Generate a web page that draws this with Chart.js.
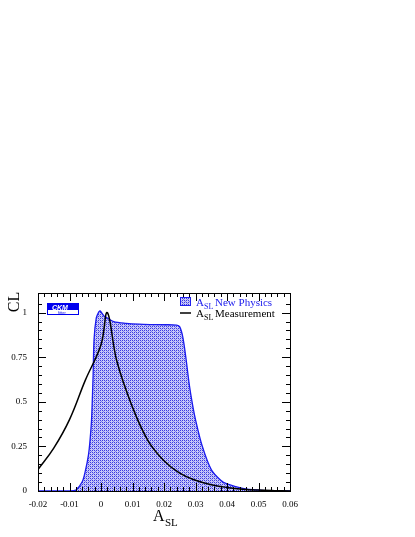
<!DOCTYPE html><html><head><script src="https://cdn.jsdelivr.net/npm/chart.js"></script>
<style>html,body{margin:0;background:#fff}#c{display:block}</style></head><body>
<canvas id="c" width="415" height="537"></canvas>
<script>
const npX=[-0.02,-0.01,-0.008,-0.006,-0.005,-0.004,-0.0035,-0.003,-0.0025,-0.0022,-0.0015,-0.0008,-0.0003,0.001,0.002,0.004,0.008,0.012,0.016,0.02,0.024,0.025,0.026,0.027,0.028,0.029,0.03,0.032,0.035,0.038,0.04,0.045,0.05,0.055,0.06];
const npY=[0,0,0.005,0.05,0.11,0.2,0.28,0.4,0.65,0.85,0.97,1.0,1.01,0.98,0.97,0.95,0.94,0.935,0.933,0.932,0.93,0.92,0.86,0.74,0.6,0.49,0.4,0.26,0.12,0.06,0.04,0.015,0.005,0.001,0];
const mX=[-0.02,-0.015,-0.01,-0.005,0,0.002,0.005,0.01,0.015,0.02,0.025,0.03,0.035,0.04,0.045,0.05,0.055,0.06];
const mY=[0.12,0.24,0.40,0.62,0.82,1.0,0.73,0.47,0.28,0.17,0.10,0.06,0.035,0.02,0.01,0.005,0.002,0];
const xTicks=[-0.02,-0.01,0,0.01,0.02,0.03,0.04,0.05,0.06];
const yTicks=[0,0.25,0.5,0.75,1];
const pc=document.createElement('canvas');pc.width=4;pc.height=4;
const g=pc.getContext('2d');g.fillStyle='#c8c8f8';g.fillRect(0,0,4,4);g.fillStyle='#3a3ae0';
g.fillRect(0,0,1,1);g.fillRect(2,2,1,1);g.fillRect(2,0,1,1);g.fillRect(0,2,1,1);g.fillStyle='#8080f0';g.fillRect(1,1,1,1);g.fillRect(3,3,1,1);
const pat=g.createPattern(pc,'repeat');
const F='"Liberation Serif", "Times New Roman", serif';
const deco={id:'deco',afterDraw(ch){const c=ch.ctx,a=ch.chartArea,xs=ch.scales.x,ys=ch.scales.y;c.save();
c.strokeStyle='#000';c.lineWidth=1;c.strokeRect(a.left+.5,a.top+.5,a.right-a.left,a.bottom-a.top);
c.beginPath();for(let v=-0.02;v<=0.0601;v+=0.002){const p=Math.round(xs.getPixelForValue(v))+.5;const L=(Math.round(v*1000)%10===0)?8:4;c.moveTo(p,a.bottom);c.lineTo(p,a.bottom-L);c.moveTo(p,a.top);c.lineTo(p,a.top+L);}
for(let v=0;v<=1.1;v+=0.05){const p=Math.round(ys.getPixelForValue(v))+.5;const L=(Math.round(v*100)%25===0)?8:4;c.moveTo(a.left,p);c.lineTo(a.left+L,p);c.moveTo(a.right,p);c.lineTo(a.right-L,p);}c.stroke();
// logo
c.fillStyle='#0000ee';c.fillRect(47,303,32,7);c.strokeStyle='#0000ee';c.strokeRect(47.5,303.5,31,11);
c.fillStyle='#fff';c.font='italic bold 7px Arial';c.fillText('CKM',52,309.5);c.fillStyle='#0000ee';c.font='4px Arial';c.fillText('fitter',58,314);
// legend
c.fillStyle=pat;c.fillRect(180,297,11,9);c.strokeStyle='#2020ee';c.strokeRect(180.5,297.5,10,8);
c.font='11px '+F;c.fillStyle='#2020ee';c.fillText('A',196,306);c.font='8px '+F;c.fillText('SL',204,309);c.font='11px '+F;c.fillText('New Physics',215,306);
c.strokeStyle='#000';c.lineWidth=1.5;c.beginPath();c.moveTo(180,313);c.lineTo(191,313);c.stroke();
c.fillStyle='#000';c.font='11px '+F;c.fillText('A',196,317);c.font='8px '+F;c.fillText('SL',204,320);c.font='11px '+F;c.fillText('Measurement',215,317);
// axis titles
c.font='16px '+F;c.fillText('A',153,521);c.font='11px '+F;c.fillText('SL',165,526);
c.save();c.translate(19,302);c.rotate(-Math.PI/2);c.font='16px '+F;c.textAlign='center';c.fillText('CL',0,0);c.restore();
c.restore();}};
new Chart(document.getElementById('c'),{type:'scatter',data:{datasets:[
{data:mX.map((x,i)=>({x,y:mY[i]})),showLine:true,borderColor:'#000',borderWidth:1.5,pointRadius:0,tension:0.4,fill:false,order:0},
{data:npX.map((x,i)=>({x,y:npY[i]})),showLine:true,borderColor:'#1a1aee',borderWidth:1.3,backgroundColor:pat,pointRadius:0,tension:0.3,fill:'origin',order:1}]},
options:{responsive:false,animation:false,layout:{padding:{top:293,right:125,left:0,bottom:0}},plugins:{legend:{display:false},tooltip:{enabled:false}},
scales:{x:{type:'linear',min:-0.02,max:0.06,afterFit(s){s.height=46},afterBuildTicks(s){s.ticks=xTicks.map(v=>({value:v}))},grid:{display:false},border:{display:false},ticks:{padding:0,color:'#000',font:{family:F,size:9},callback:v=>String(Math.round(v*100)/100)}},
y:{min:0,max:1.11,afterFit(s){s.width=38},afterBuildTicks(s){s.ticks=yTicks.map(v=>({value:v}))},grid:{display:false},border:{display:false},ticks:{padding:3,color:'#000',font:{family:F,size:9},callback:v=>String(v)}}}},plugins:[deco]});
</script></body></html>
